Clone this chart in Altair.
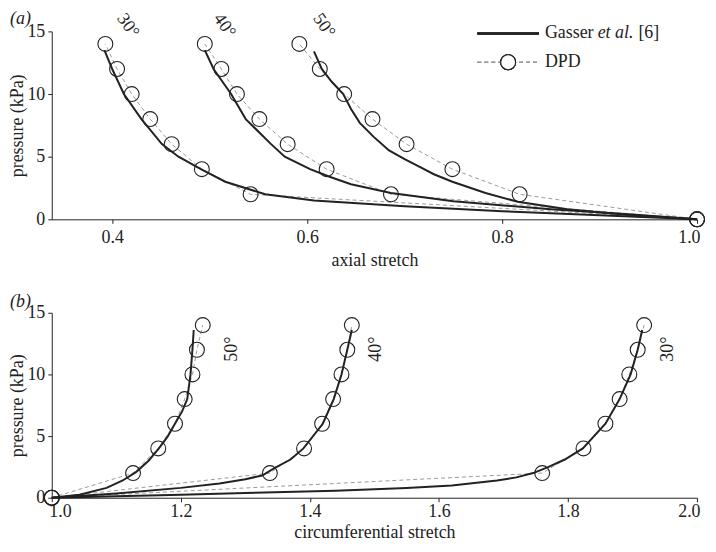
import altair as alt
import pandas as pd

FONT = "Liberation Serif"
DARK = "#222222"
GREY = "#9a9a9a"

pressure_levels = [0, 2, 4, 6, 8, 10, 12, 14]
angles = ["30°", "40°", "50°"]

# ---------- panel (a): axial stretch ----------
a_dpd = {
    "30°": [1.0, 0.542, 0.492, 0.461, 0.439, 0.420, 0.405, 0.393],
    "40°": [1.0, 0.686, 0.620, 0.580, 0.551, 0.528, 0.512, 0.495],
    "50°": [1.0, 0.818, 0.749, 0.702, 0.667, 0.638, 0.613, 0.592],
}
a_gas_x = {
    "30°": [0.392, 0.40, 0.412, 0.43, 0.451, 0.468, 0.491, 0.516, 0.557, 0.607, 0.70, 0.80, 0.90, 1.0],
    "40°": [0.495, 0.504, 0.522, 0.537, 0.563, 0.577, 0.603, 0.623, 0.645, 0.686, 0.75, 0.85, 0.93, 1.0],
    "50°": [0.607, 0.615, 0.625, 0.637, 0.645, 0.654, 0.668, 0.684, 0.70, 0.715, 0.73, 0.749, 0.783, 0.816, 0.867, 0.93, 1.0],
}
a_gas_p = {
    "30°": [13.5, 12, 10, 8, 6, 5, 4, 3, 2, 1.5, 1.05, 0.65, 0.32, 0],
    "40°": [13.5, 12, 10, 8, 6, 5, 4, 3.4, 2.8, 2.1, 1.45, 0.8, 0.4, 0],
    "50°": [13.4, 12, 11, 10, 8.8, 7.7, 6.6, 5.5, 4.8, 4.2, 3.6, 3.0, 2.1, 1.4, 0.8, 0.35, 0],
}
a_label_x = [0.416, 0.515, 0.617]
a_label_p = [15.45, 15.45, 15.45]

# ---------- panel (b): circumferential stretch ----------
b_dpd = {
    "30°": [1.0, 1.760, 1.824, 1.858, 1.880, 1.895, 1.908, 1.918],
    "40°": [1.0, 1.338, 1.391, 1.419, 1.436, 1.449, 1.458, 1.465],
    "50°": [1.0, 1.126, 1.165, 1.191, 1.206, 1.218, 1.225, 1.234],
}
b_gas_x = {
    "30°": [1.0, 1.1, 1.2, 1.3, 1.44, 1.55, 1.62, 1.69, 1.72, 1.746, 1.77, 1.795, 1.823, 1.858, 1.88, 1.897, 1.908, 1.915],
    "40°": [1.0, 1.1, 1.2, 1.26, 1.3, 1.326, 1.345, 1.37, 1.39, 1.42, 1.437, 1.449, 1.458, 1.465],
    "50°": [1.0, 1.043, 1.085, 1.11, 1.131, 1.15, 1.166, 1.18, 1.192, 1.202, 1.21, 1.215, 1.218, 1.22],
}
b_gas_p = {
    "30°": [0, 0.12, 0.25, 0.38, 0.56, 0.78, 1.0, 1.4, 1.65, 2.0, 2.5, 3.1, 4, 6, 8, 10, 12, 13.6],
    "40°": [0, 0.35, 0.8, 1.15, 1.5, 1.8, 2.4, 3.1, 4.0, 6.0, 8, 10, 12, 13.6],
    "50°": [0, 0.24, 0.8, 1.4, 2.1, 3.0, 4.0, 5.0, 6.1, 7.0, 8.0, 10, 12, 13.6],
}
b_label_x = [1.955, 1.502, 1.28]
b_label_p = [12.05, 12.05, 12.05]

legend_labels = ["Gasser", "et al.", "[6]", "DPD"]

W = 649


def dpd_frame(d):
    rows = []
    for ang in angles:
        for i, (x, p) in enumerate(zip(d[ang], pressure_levels)):
            rows.append({"angle": ang, "x": x, "p": p, "i": i})
    return pd.DataFrame(rows)


def gas_frame(dx, dp):
    rows = []
    for ang in angles:
        for i, (x, p) in enumerate(zip(dx[ang], dp[ang])):
            rows.append({"angle": ang, "x": x, "p": p, "i": i})
    return pd.DataFrame(rows)


def make_panel(dpd, gas, labels, xdomain, xticks, xtitle, label_angle, letter,
               letter_y, label_pad, title_pad, height, legend=False):
    xs = alt.Scale(domain=xdomain, nice=False, zero=False)
    ys = alt.Scale(domain=[0, 15], nice=False, zero=False)
    xaxis = alt.Axis(values=xticks, format=".1f", title=xtitle, grid=False,
                     domainColor=DARK, tickColor=DARK, tickSize=4, labelPadding=label_pad,
                     labelFlush=True, labelFlushOffset=3,
                     labelFont=FONT, labelFontSize=18, labelColor=DARK,
                     titleFont=FONT, titleFontSize=18, titleFontWeight="normal",
                     titleColor=DARK, titlePadding=title_pad)
    yaxis = alt.Axis(values=[0, 5, 10, 15], format="d", title="pressure (kPa)", grid=False,
                     domainColor=DARK, tickColor=DARK, tickSize=4, labelPadding=3,
                     labelFont=FONT, labelFontSize=18, labelColor=DARK,
                     titleFont=FONT, titleFontSize=18, titleFontWeight="normal",
                     titleColor=DARK, titlePadding=0)
    X = alt.X("x:Q", scale=xs, axis=xaxis)
    Y = alt.Y("p:Q", scale=ys, axis=yaxis)

    dashed = alt.Chart(dpd).mark_line(color=GREY, strokeWidth=1, strokeDash=[4, 3]).encode(
        x=X, y=Y, detail="angle:N", order="i:Q")
    solid = alt.Chart(gas).mark_line(color=DARK, strokeWidth=2).encode(
        x=X, y=Y, detail="angle:N", order="i:Q")
    pts = alt.Chart(dpd).mark_point(shape="circle", filled=False, size=225, color=DARK,
                                    strokeWidth=1.1, opacity=1).encode(x=X, y=Y)
    lab = alt.Chart(labels).mark_text(angle=label_angle, font=FONT, fontSize=18,
                                      color=DARK, align="center", baseline="middle").encode(
        x=alt.X("x:Q", scale=xs), y=alt.Y("p:Q", scale=ys), text="t:N")
    let = alt.Chart(pd.DataFrame({"t": [letter]})).mark_text(
        font=FONT, fontSize=18, fontStyle="italic", color=DARK, align="left",
        baseline="middle").encode(x=alt.value(-42), y=alt.value(letter_y), text="t:N")
    layers = [dashed, solid, pts, lab, let]
    if legend:
        ld = pd.DataFrame({"t": legend_labels})
        layers += [
            alt.Chart(ld).mark_rule(color=DARK, strokeWidth=2).encode(
                x=alt.value(428), x2=alt.value(490), y=alt.value(2)),
            alt.Chart(ld).mark_rule(color=GREY, strokeWidth=1, strokeDash=[4, 3]).encode(
                x=alt.value(428), x2=alt.value(490), y=alt.value(31)),
            alt.Chart(ld).mark_point(shape="circle", filled=True, fill="white", stroke=DARK,
                                     strokeWidth=1.1, size=225, opacity=1).encode(
                x=alt.value(459), y=alt.value(31)),
            alt.Chart(ld).transform_filter(alt.datum.t == legend_labels[0]).mark_text(
                font=FONT, fontSize=18, color=DARK, align="left", baseline="middle").encode(
                x=alt.value(496), y=alt.value(2), text="t:N"),
            alt.Chart(ld).transform_filter(alt.datum.t == legend_labels[1]).mark_text(
                font=FONT, fontSize=18, fontStyle="italic", color=DARK, align="left",
                baseline="middle").encode(x=alt.value(549), y=alt.value(2), text="t:N"),
            alt.Chart(ld).transform_filter(alt.datum.t == legend_labels[2]).mark_text(
                font=FONT, fontSize=18, color=DARK, align="left", baseline="middle").encode(
                x=alt.value(590), y=alt.value(2), text="t:N"),
            alt.Chart(ld).transform_filter(alt.datum.t == legend_labels[3]).mark_text(
                font=FONT, fontSize=18, color=DARK, align="left", baseline="middle").encode(
                x=alt.value(496), y=alt.value(31), text="t:N"),
        ]
    return alt.layer(*layers).properties(width=W, height=height)


a_labels = pd.DataFrame({"x": a_label_x, "p": a_label_p, "t": angles})
b_labels = pd.DataFrame({"x": b_label_x, "p": b_label_p, "t": angles})

panel_a = make_panel(dpd_frame(a_dpd), gas_frame(a_gas_x, a_gas_p), a_labels,
                     [0.338, 1.0], [0.4, 0.6, 0.8, 1.0], "axial stretch", 55, "(a)",
                     -12, 5, 5, 189, legend=True)
panel_b = make_panel(dpd_frame(b_dpd), gas_frame(b_gas_x, b_gas_p), b_labels,
                     [1.0, 2.0], [1.0, 1.2, 1.4, 1.6, 1.8, 2.0], "circumferential stretch",
                     270, "(b)", -11, 1, 3, 186)

chart = alt.vconcat(panel_a, panel_b, spacing=94, bounds="flush").properties(
    padding={"left": 0, "top": 0, "right": 0, "bottom": 0}
).configure_view(stroke="transparent")

chart.save("out.html", embed_options={"renderer": "svg", "actions": False})
